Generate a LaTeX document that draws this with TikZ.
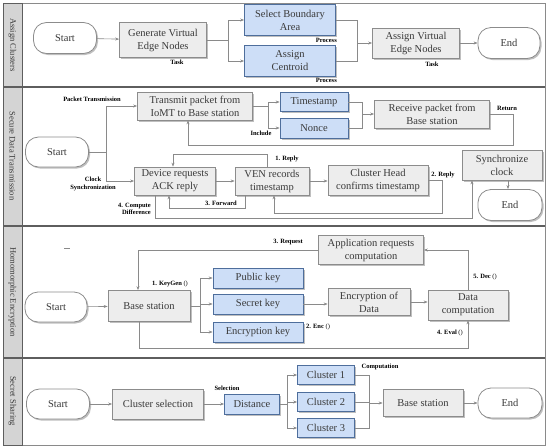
\documentclass[tikz,border=0pt]{standalone}
\usepackage{fontspec}
\setmainfont{Liberation Serif}
\usetikzlibrary{arrows.meta,shadows,calc}
\definecolor{lineg}{HTML}{8A8A8A}
\definecolor{boxg}{HTML}{EDEDED}
\definecolor{boxgd}{HTML}{8C8C8C}
\definecolor{bfill}{HTML}{CDDEF7}
\definecolor{bdraw}{HTML}{4E6E9C}
\definecolor{txt}{HTML}{3A3A3A}
\definecolor{lanefill}{HTML}{D4D4D4}
\definecolor{laned}{HTML}{5E5E5E}
\begin{document}
\begin{tikzpicture}[x=1pt,y=-1pt,
 base/.style={align=center, inner sep=1pt, text=txt, font=\fontsize{10.5}{13}\selectfont},
 shad/.style={drop shadow={shadow xshift=1.5pt,shadow yshift=-1.5pt,fill=black,opacity=0.25}},
 gbox/.style={base, draw=boxgd, fill=boxg, line width=0.7pt, shad},
 bbox/.style={base, draw=bdraw, fill=bfill, line width=0.7pt, shad},
 stad/.style={base, draw=boxgd, fill=white, rounded corners=13pt, line width=0.8pt, shad},
 lab/.style={font=\fontsize{6.5}{7.5}\selectfont\bfseries, text=black, inner sep=0pt, align=center},
 ln/.style={draw=lineg, line width=0.6pt},
 arr/.style={ln, -{Stealth[length=4pt,width=3pt]}},
 lanetxt/.style={rotate=-90, font=\fontsize{8.5}{10}\selectfont, text=txt, inner sep=0pt}
]
\useasboundingbox (0,0) rectangle (550,448);
% lanes
\foreach \t/\b in {3/87, 87/226, 226/358, 358/445}{
  \draw[draw=lineg, line width=0.8pt] (3,\t) rectangle (545,\b);
  \draw[fill=lanefill, draw=laned, line width=0.8pt] (3,\t) rectangle (22,\b);
}
\foreach \y in {87,226,358}{\draw[laned, line width=1.4pt] (3,\y) -- (545,\y);}
\node[lanetxt] (L1) at (12.5,45) {Assign Clusters};
\node[lanetxt] (L2) at (12.5,156) {Secure Data Transmission};
\node[lanetxt] (L3) at (12.5,292) {Homomorphic Encryption};
\node[lanetxt] (L4) at (12.5,401) {Secret Sharing};

% ---------- Lane 1
\node[stad, minimum width=63, minimum height=31] (s1) at (65,38) {Start};
\node[gbox, minimum width=87, minimum height=35] (gen) at (163,40) {Generate Virtual\\Edge Nodes};
\node[lab] (task1) at (177,62) {Task};
\node[bbox, minimum width=91, minimum height=31] (sel) at (290,20) {Select Boundary\\Area};
\node[bbox, minimum width=91, minimum height=31] (cen) at (290,61) {Assign\\Centroid};
\node[lab, anchor=east] (pr1) at (337,40) {Process};
\node[lab, anchor=east] (pr2) at (337,80) {Process};
\node[gbox, minimum width=87, minimum height=30] (av) at (416,43) {Assign Virtual\\Edge Nodes};
\node[lab] (task2) at (432,64) {Task};
\node[stad, minimum width=62, minimum height=31] (e1) at (509,43) {End};
\draw[arr] (s1) -- (gen);
\coordinate (b1) at (228,40);
\draw[ln] (gen.east) -- (b1);
\draw[arr] (b1) |- (sel.west);
\draw[arr] (b1) |- (cen.west);
\coordinate (j1) at (357,43);
\draw[ln] (sel.east) -| (j1);
\draw[ln] (cen.east) -| (j1);
\draw[arr] (j1) -- (av.west);
\draw[arr] (av) -- (e1);

% ---------- Lane 2
\node[stad, minimum width=63, minimum height=30] (s2) at (57,152) {Start};
\node[gbox, minimum width=115, minimum height=28] (tr) at (195,106) {Transmit packet from\\IoMT to Base station};
\node[gbox, minimum width=81, minimum height=28] (dev) at (175,181) {Device requests\\ACK reply};
\node[gbox, minimum width=74, minimum height=28] (ven) at (272,181) {VEN records\\timestamp};
\node[gbox, minimum width=100, minimum height=30] (ch) at (378,180) {Cluster Head\\confirms timestamp};
\node[gbox, minimum width=80, minimum height=30] (sync) at (502,165) {Synchronize\\clock};
\node[stad, minimum width=64, minimum height=31] (e2) at (510,205) {End};
\node[bbox, minimum width=68, minimum height=19] (ts) at (314,102) {Timestamp};
\node[bbox, minimum width=68, minimum height=20] (no) at (314,128) {Nonce};
\node[gbox, minimum width=115, minimum height=28] (rc) at (432,114) {Receive packet from\\Base station};
\node[lab] (pt) at (92,99) {Packet Transmission};
\node[lab] (cks) at (93,184) {Clock\\Synchronization};
\node[lab] (inc) at (261,133) {Include};
\node[lab] (ret) at (507,108) {Return};
\node[lab] (rp1) at (287,159) {1. Reply};
\node[lab] (fw3) at (221,203) {3. Forward};
\node[lab] (rp2) at (443,175) {2. Reply};
\node[lab, anchor=east, align=right] (cd4) at (151,209) {4. Compute\\Difference};
\coordinate (b2) at (106,152);
\draw[ln] (s2.east) -- (b2);
\draw[arr] (b2) |- (tr.west);
\draw[arr] (b2) |- (dev.west);
\coordinate (b3) at (268,106);
\draw[ln] (tr.east) -- (b3);
\draw[arr] (b3) |- (ts.west);
\draw[arr] (b3) |- (no.west);
\coordinate (j3) at (362,114);
\draw[ln] (ts.east) -| (j3);
\draw[ln] (no.east) -| (j3);
\draw[arr] (j3) -- (rc.west);
\coordinate (r1) at (513,145);
\draw[arr] (rc.east) -| (r1) -| ([xshift=-7pt]tr.south);
\draw[arr] (dev) -- (ven);
\draw[arr] (ven.east) -- (ven.east -| ch.west);
\draw[arr] ([xshift=-5pt]ven.north) -- ++(0,-12) -| ([xshift=-2pt]dev.north);
\draw[arr] ([xshift=-27pt]ven.south) -- ++(0,13) -| ([xshift=-6pt]dev.south);
\draw[arr] (ch.east) -- ++(14,0) |- ([xshift=2pt,yshift=-18pt]ven.south) -- ([xshift=2pt]ven.south);
\draw[arr] ([xshift=-20pt]dev.south) -- ++(0,23) -| ([xshift=-30pt]sync.south);
\draw[arr] ([xshift=6pt]sync.south) -- ([xshift=-2pt]e2.north);

% ---------- Lane 3
\node[stad, minimum width=62, minimum height=30] (s3) at (56,307) {Start};
\node[gbox, minimum width=82, minimum height=31] (bs) at (149,306) {Base station};
\node[bbox, minimum width=90, minimum height=20] (pk) at (258,278) {Public key};
\node[bbox, minimum width=90, minimum height=20] (sk) at (258,304) {Secret key};
\node[bbox, minimum width=90, minimum height=20] (ek) at (258,332) {Encryption key};
\node[gbox, minimum width=82, minimum height=27] (ed) at (369,302) {Encryption of\\Data};
\node[gbox, minimum width=80, minimum height=30] (dc) at (468,305) {Data\\computation};
\node[gbox, minimum width=105, minimum height=29] (ap) at (371,250) {Application requests\\computation};
\node[lab] (kg) at (170,284) {1. KeyGen {\mdseries()}};
\node[lab] (enc) at (318,327) {2. Enc {\mdseries()}};
\node[lab] (req) at (288,242) {3. Request};
\node[lab] (ev) at (450,333) {4. Eval {\mdseries()}};
\node[lab] (dec) at (485,277) {5. Dec {\mdseries()}};
\coordinate (dash1) at (64,248);
\draw[ln, line width=0.5pt] (dash1) -- ++(6,0);
\draw[arr] (s3) -- (bs);
\coordinate (b4) at (200,306);
\draw[ln] (bs.east) -- (b4);
\draw[arr] (b4) |- (pk.west);
\draw[arr] (b4) |- (sk.west);
\draw[arr] (b4) |- (ek.west);
\draw[arr] (sk.east) -- (sk.east -| ed.west);
\draw[arr] (ed.east) -- (ed.east -| dc.west);
\draw[arr] (dc.north) |- (ap.east);
\draw[arr] (ap.west) -| ([xshift=-11pt]bs.north);
\draw[arr] ([xshift=-10pt]bs.south) -- ++(0,26) -| (dc.south);

% ---------- Lane 4
\node[stad, minimum width=63, minimum height=30] (s4) at (58,404) {Start};
\node[gbox, minimum width=91, minimum height=30] (cs) at (158,404) {Cluster selection};
\node[bbox, minimum width=55, minimum height=20] (di) at (252,404) {Distance};
\node[bbox, minimum width=57, minimum height=19] (c1) at (326,375) {Cluster 1};
\node[bbox, minimum width=57, minimum height=19] (c2) at (326,402) {Cluster 2};
\node[bbox, minimum width=57, minimum height=19] (c3) at (326,428) {Cluster 3};
\node[gbox, minimum width=80, minimum height=27] (bs4) at (423,403) {Base station};
\node[stad, minimum width=64, minimum height=30] (e4) at (510,403) {End};
\node[lab] (selc) at (227,388) {Selection};
\node[lab] (comp) at (380,367) {Computation};
\draw[arr] (s4) -- (cs);
\draw[arr] (cs) -- (di);
\coordinate (b5) at (287,404);
\draw[ln] (di.east) -- (b5);
\draw[arr] (b5) |- (c1.west);
\draw[arr] (b5) |- (c2.west);
\draw[arr] (b5) |- (c3.west);
\coordinate (j5) at (369,403);
\draw[ln] (c1.east) -| (j5);
\draw[ln] (c3.east) -| (j5);
\draw[ln] (c2.east) -- (c2.east -| j5);
\draw[arr] (j5) -- (bs4.west);
\draw[arr] (bs4) -- (e4);
\end{tikzpicture}
\end{document}
